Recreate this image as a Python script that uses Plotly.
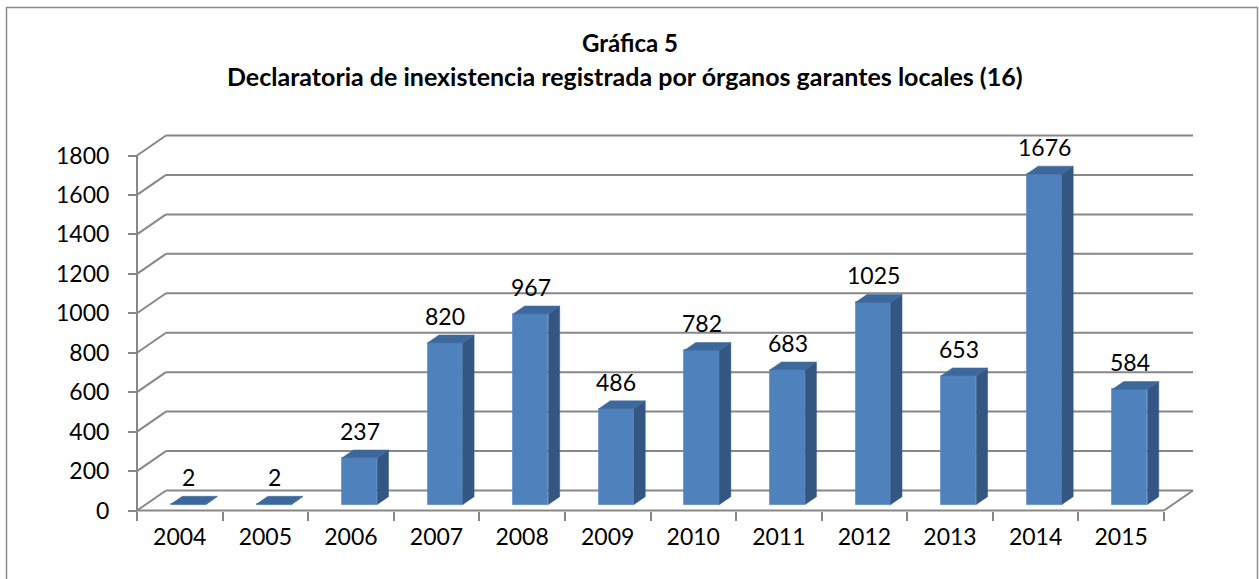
import plotly.graph_objects as go

# ---- data ----
years = ["2004", "2005", "2006", "2007", "2008", "2009", "2010", "2011", "2012", "2013", "2014", "2015"]
values = [2, 2, 237, 820, 967, 486, 782, 683, 1025, 653, 1676, 584]
y_ticks = [0, 200, 400, 600, 800, 1000, 1200, 1400, 1600, 1800]
title_line1 = "Gráfica 5"
title_line2 = "Declaratoria de inexistencia registrada por órganos garantes locales (16)"

# ---- geometry (pseudo 3D) ----
W, H = 1259, 579
X0PX, CAT_PX = 137.0, 85.583      # pixel of category edge 0, pixels per category
Y0PX, VPX = 510.5, 355.0 / 1800   # pixel of value 0, pixels per value unit
DX = 29.0 / CAT_PX                # full depth offset in category units
DY = 20.0 / VPX                   # full depth offset in value units
F0, FT = 0.30, 0.39               # bar front depth fraction, bar thickness fraction
BW = 0.41                         # bar width (category units)

x_range = [-X0PX / CAT_PX, (W - X0PX) / CAT_PX]
y_range = [-(H - Y0PX) / VPX, Y0PX / VPX]

GRID = "#878787"
FRONT = "#4f81bd"
TOP = "#3d689c"
SIDE = "#335683"
FONT = "Lato, 'Open Sans', sans-serif"

n = len(years)
centers = [i + 0.5 + F0 * DX for i in range(n)]
base = F0 * DY

fig = go.Figure()

# front faces of bars
fig.add_trace(go.Bar(
    x=centers, y=values, base=[base] * n, width=BW,
    marker=dict(color=FRONT, line=dict(color="#5a8ac6", width=0.8)),
    hoverinfo="skip", showlegend=False,
))

# tops and sides
top_x, top_y, side_x, side_y = [], [], [], []
for c, v in zip(centers, values):
    xl, xr = c - BW / 2, c + BW / 2
    yt = base + v
    top_x += [xl, xr, xr + FT * DX, xl + FT * DX, xl, None]
    top_y += [yt, yt, yt + FT * DY, yt + FT * DY, yt, None]
    side_x += [xr, xr + FT * DX, xr + FT * DX, xr, xr, None]
    side_y += [base, base + FT * DY, yt + FT * DY, yt, base, None]

fig.add_trace(go.Scatter(x=side_x, y=side_y, mode="lines", fill="toself",
                         fillcolor=SIDE, line=dict(color=SIDE, width=0.5),
                         hoverinfo="skip", showlegend=False))
fig.add_trace(go.Scatter(x=top_x, y=top_y, mode="lines", fill="toself",
                         fillcolor=TOP, line=dict(color=TOP, width=0.5),
                         hoverinfo="skip", showlegend=False))

shapes = []
# back wall gridlines + left side wall diagonals
for v in y_ticks:
    shapes.append(dict(type="line", xref="x", yref="y", x0=0, y0=v, x1=DX, y1=v + DY,
                       line=dict(color=GRID, width=2), layer="below"))
    shapes.append(dict(type="line", xref="x", yref="y", x0=DX, y0=v + DY, x1=n + DX, y1=v + DY,
                       line=dict(color=GRID, width=2), layer="below"))
# floor front and right edges
shapes.append(dict(type="line", xref="x", yref="y", x0=0, y0=0, x1=n, y1=0,
                   line=dict(color=GRID, width=2), layer="below"))
shapes.append(dict(type="line", xref="x", yref="y", x0=n, y0=0, x1=n + DX, y1=DY,
                   line=dict(color=GRID, width=2), layer="below"))
# vertical axis line
shapes.append(dict(type="line", xref="x", yref="y", x0=0, y0=0, x1=0, y1=y_ticks[-1],
                   line=dict(color=GRID, width=2), layer="below"))
# chart border
shapes.append(dict(type="rect", xref="paper", yref="paper",
                   x0=6.5 / W, x1=1257.5 / W, y0=-0.05, y1=1 - 7.5 / H,
                   line=dict(color="#8c8c8c", width=1.5), fillcolor="rgba(0,0,0,0)", layer="below"))

annotations = []
for c, v in zip(centers, values):
    annotations.append(dict(x=c, y=base + v, xref="x", yref="y", text=str(v),
                            showarrow=False, yanchor="middle", yshift=27,
                            font=dict(family=FONT, size=23, color="black")))
annotations.append(dict(x=630 / W, y=1 - 42 / H, xref="paper", yref="paper",
                        text="<b>" + title_line1 + "</b>", showarrow=False,
                        yanchor="middle", font=dict(family=FONT, size=24, color="black")))
annotations.append(dict(x=625 / W, y=1 - 76 / H, xref="paper", yref="paper",
                        text="<b>" + title_line2 + "</b>", showarrow=False,
                        yanchor="middle", font=dict(family=FONT, size=25, color="black")))

fig.update_layout(
    width=W, height=H,
    margin=dict(l=0, r=0, t=0, b=0, pad=0),
    paper_bgcolor="white", plot_bgcolor="white",
    shapes=shapes, annotations=annotations,
    showlegend=False, bargap=0,
    xaxis=dict(range=x_range, anchor="free", position=(H - Y0PX) / H,
               tickmode="array", tickvals=[i + 0.5 for i in range(n)], ticktext=years,
               ticks="", showgrid=False, zeroline=False, showline=False,
               ticklabelstandoff=10,
               tickfont=dict(family=FONT, size=23, color="black"),
               minor=dict(tickmode="array", tickvals=list(range(n + 1)), ticks="outside",
                          ticklen=9, tickwidth=2, tickcolor=GRID, showgrid=False),
               fixedrange=True),
    yaxis=dict(range=y_range, anchor="free", position=X0PX / W,
               tickmode="array", tickvals=y_ticks, ticks="outside", ticklen=9,
               tickwidth=2, tickcolor=GRID, showgrid=False, zeroline=False, showline=False,
               ticklabelstandoff=14,
               tickfont=dict(family=FONT, size=23, color="black"),
               fixedrange=True),
)

fig.write_html("out.html", config={"displayModeBar": False},
               post_script="document.body.style.margin='0';")
